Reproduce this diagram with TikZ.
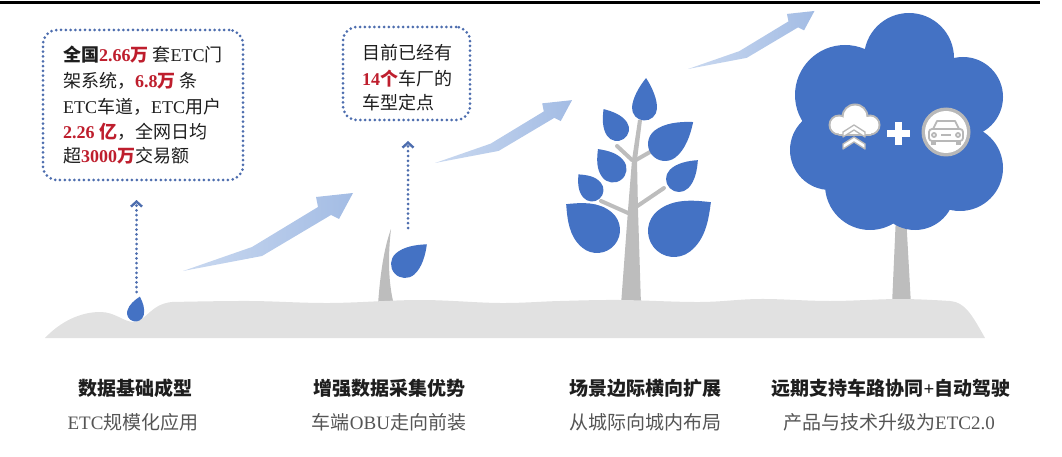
\documentclass[tikz,border=0pt]{standalone}
\usepackage{fontspec}
\setmainfont{Liberation Serif}
\newfontfamily\zhfont{Noto Sans CJK SC}
\usetikzlibrary{arrows.meta}

\definecolor{leafblue}{HTML}{4472C4}
\definecolor{dotblue}{HTML}{4D6DAE}
\definecolor{trunkgray}{HTML}{BDBDBD}
\definecolor{groundgray}{HTML}{E1E1E1}
\definecolor{numred}{HTML}{BE1E2D}
\definecolor{inkblack}{HTML}{1E1E1E}
\definecolor{subgray}{HTML}{555555}
\definecolor{arrowlight}{HTML}{CAD9F0}
\definecolor{arrowdark}{HTML}{A3BCE4}
\definecolor{icongray}{HTML}{B8B8B8}

% Chinese runs are set in the CJK family, Latin runs in the serif
\newcommand\zhtxt[1]{{\zhfont #1}}
\newcommand\numhl[1]{\textcolor{numred}{\bfseries #1}}

% teardrop leaf: centre x, centre y, radius, rotation, tip distance (in radii)
\newcommand\leafdrop[5]{%
  \fill[leafblue, shift={(#1,#2)}, rotate=#4, scale=#3]
    (0,-#5) .. controls (0.5,{-0.72*#5}) and (1,-0.75) .. (1,0)
    arc[start angle=0, end angle=180, radius=1]
    .. controls (-1,-0.75) and (-0.5,{-0.72*#5}) .. (0,-#5) -- cycle;}

% rising growth arrow: tail x, tail y, scale
\newcommand\growarrow[3]{%
  \shade[left color=arrowlight, right color=arrowdark, shift={(#1,#2)}, scale=#3]
    (0,0) -- (69,-24) -- (135,-64) -- (133,-74) -- (170,-78)
    -- (156,-52) -- (148,-56) -- (79,-15) -- cycle;}

\tikzset{
  infobox/.style={draw=dotblue, line width=3pt, dash pattern=on 0pt off 4.8pt,
    line cap=round, rounded corners=14pt, rectangle},
  dotlink/.style={draw=dotblue, line width=3pt, dash pattern=on 0pt off 4.8pt,
    line cap=round, -{Straight Barb[length=5pt,width=11pt,line width=2.4pt]}},
  boxtext/.style={anchor=base west, inner sep=0pt, text=inkblack,
    font=\fontsize{18}{18}\selectfont},
  steptitle/.style={anchor=base, inner sep=0pt, text=inkblack,
    font=\fontsize{19}{19}\selectfont\bfseries},
  stepsub/.style={anchor=base, inner sep=0pt, text=subgray,
    font=\fontsize{19}{19}\selectfont},
  branch/.style={draw=trunkgray, line width=4pt, line cap=round},
  iconline/.style={draw=icongray, line width=1.8pt, line join=round, line cap=round},
}

\begin{document}
\begin{tikzpicture}[x=1pt, y=-1pt]
\useasboundingbox (0,0) rectangle (1062,457);

% top rule
\draw[line width=3pt] (0,3) -- (1040,3);

% growth arrows
\growarrow{183}{271}{1}
\growarrow{435}{163}{0.806}
\growarrow{688}{69}{0.744}

% info boxes
\node[infobox, minimum width=200pt, minimum height=150pt] (box1) at (143,105) {};
\node[infobox, minimum width=127pt, minimum height=93pt] (box2) at (406.5,73.5) {};

\node[boxtext] (b1l1) at (63,62) {\textbf{\zhtxt{全国}}\numhl{2.66\zhtxt{万}}\hspace{4pt}\zhtxt{套}ETC\zhtxt{门}};
\node[boxtext] (b1l2) at (63,88) {\zhtxt{架系统，}\numhl{6.8\zhtxt{万}}\hspace{4pt}\zhtxt{条}};
\node[boxtext] (b1l3) at (63,114) {ETC\zhtxt{车道，}ETC\zhtxt{用户}};
\node[boxtext] (b1l4) at (63,139) {\numhl{2.26 \zhtxt{亿}}\zhtxt{，全网日均}};
\node[boxtext] (b1l5) at (63,163) {\zhtxt{超}\numhl{3000\zhtxt{万}}\zhtxt{交易额}};

\node[boxtext] (b2l1) at (362,60) {\zhtxt{目前已经有}};
\node[boxtext] (b2l2) at (362,86) {\numhl{14\zhtxt{个}}\zhtxt{车厂的}};
\node[boxtext] (b2l3) at (362,110) {\zhtxt{车型定点}};

% stems and trunks (their feet are hidden by the ground)
\fill[trunkgray] (378,305) .. controls (380,275) and (384,248) .. (391,229)
  .. controls (388,255) and (388,282) .. (394,305) -- cycle;
\fill[trunkgray] (621,305) -- (628,210) -- (632,160) -- (638,120) -- (642,120)
  -- (637,160) -- (638,210) -- (641,305) -- cycle;
\fill[trunkgray] (892,305) -- (896,215) -- (906,215) -- (911,305) -- cycle;

% sapling branches and leaves
\draw[branch] (628,213) -- (601,201);
\draw[branch] (636,207) -- (664,188);
\draw[branch] (632,160) -- (617,146);
\draw[branch] (636,160) -- (650,152);
\leafdrop{644.5}{108}{12.5}{-3}{2.4}
\leafdrop{617}{129}{12}{34}{2.0}
\leafdrop{665}{144}{17}{-52}{2.1}
\leafdrop{613}{169}{13.5}{37}{1.85}
\leafdrop{679}{179}{13}{-45}{2.05}
\leafdrop{592}{190}{11.5}{41}{1.8}
\leafdrop{597}{230}{23}{50}{1.75}
\leafdrop{674}{231}{26}{-52}{1.8}

% sprout leaf
\leafdrop{405}{264}{14}{-48}{2.1}

% cloud-shaped crown
\fill[leafblue]
  (909,58) circle[radius=45]
  (845,95) circle[radius=50]
  (830,150) circle[radius=40]
  (870,185) circle[radius=45]
  (915,190) circle[radius=40]
  (960,168) circle[radius=43]
  (963,97) circle[radius=40]
  (905,130) circle[radius=70];

% cloud upload icon
\fill[icongray] (839,125) circle[radius=10.5] (855,117) circle[radius=13.5]
  (870,125) circle[radius=10.5];
\fill[icongray, rounded corners=3pt] (837,121) rectangle (873,136);
\fill[white] (839,125) circle[radius=8.5] (855,117) circle[radius=11.5]
  (870,125) circle[radius=8.5];
\fill[white] (839,123) rectangle (871,134);
\foreach \cy in {125,137}{
  \filldraw[fill=white, draw=icongray, line width=1.3pt, line join=round]
    (843,\cy+7) -- (854,\cy) -- (865,\cy+7) -- (865,\cy+12) -- (854,\cy+5)
    -- (843,\cy+12) -- cycle;
}

% plus sign
\fill[white] (895,122) rectangle (902,145);
\fill[white] (887,130) rectangle (910,137);

% car badge
\fill[icongray] (946,132) circle[radius=24.5];
\fill[white] (946,132) circle[radius=21];
\draw[iconline] (937,121) -- (955,121) -- (959,129) -- (933,129) -- cycle;
\draw[iconline, rounded corners=3pt] (929,129) rectangle (963,141);
\draw[iconline] (934,135) circle[radius=2];
\draw[iconline] (958,135) circle[radius=2];
\draw[draw=icongray, line width=2.4pt] (941,135) -- (951,135);
\fill[icongray] (931,141) rectangle (936,145);
\fill[icongray] (956,141) rectangle (961,145);

% ground
\fill[groundgray] (45,338) .. controls (60,322) and (80,312) .. (100,312)
  .. controls (115,312) and (122,321) .. (133,322)
  .. controls (146,322) and (150,304) .. (172,302)
  -- plot[smooth, tension=0.6] coordinates {(172,302) (250,301) (330,303) (420,300)
     (500,303) (560,301) (620,300) (700,302) (760,299) (830,301) (900,299) (950,301)}
  .. controls (965,302) and (972,315) .. (985,338) -- cycle;

% seed droplet
\leafdrop{135.5}{313}{8.5}{-15}{2.0}

% dotted links up to the boxes
\coordinate (seedtop) at (136.5,292);
\coordinate (seedtip) at (136.5,200);
\draw[dotlink] (seedtop) -- (seedtip);
\coordinate (sprouttop) at (408,228);
\coordinate (sprouttip) at (408,141);
\draw[dotlink] (sprouttop) -- (sprouttip);

% stage captions
\node[steptitle] (t1) at (135,395) {\zhtxt{数据基础成型}};
\node[stepsub] (s1) at (133,429) {ETC\zhtxt{规模化应用}};
\node[steptitle] (t2) at (389,395) {\zhtxt{增强数据采集优势}};
\node[stepsub] (s2) at (389,429) {\zhtxt{车端}OBU\zhtxt{走向前装}};
\node[steptitle] (t3) at (645,395) {\zhtxt{场景边际横向扩展}};
\node[stepsub] (s3) at (645,429) {\zhtxt{从城际向城内布局}};
\node[steptitle] (t4) at (891,395) {\zhtxt{远期支持车路协同}+\zhtxt{自动驾驶}};
\node[stepsub] (s4) at (889,429) {\zhtxt{产品与技术升级为}ETC2.0};
\end{tikzpicture}
\end{document}
